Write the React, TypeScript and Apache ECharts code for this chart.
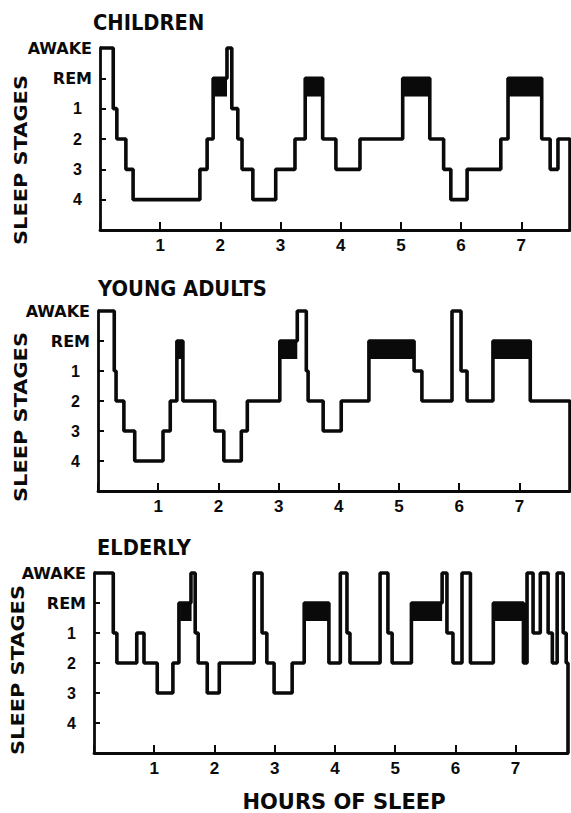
import React, { useEffect, useRef } from 'react';
import * as echarts from 'echarts';

// Stage categories, top to bottom; index 6 is the baseline the trace drops to at the end
const STAGES = ['AWAKE', 'REM', '1', '2', '3', '4'];
const HOUR_TICKS = [1, 2, 3, 4, 5, 6, 7];
const REM_DEPTH = 0.6;

// CHILDREN: hour at which each stage begins
const childrenTimes = [0, 0.22, 0.28, 0.43, 0.55, 1.66, 1.78, 1.88, 2.11, 2.19, 2.29, 2.36, 2.54, 2.92, 3.24, 3.41, 3.7, 3.92, 4.32, 5.03, 5.48, 5.71, 5.83, 6.1, 6.66, 6.78, 7.34, 7.48, 7.61];
const childrenStages = ['AWAKE', '1', '2', '3', '4', '3', '2', 'REM', 'AWAKE', '1', '2', '3', '4', '3', '2', 'REM', '2', '3', '2', 'REM', '2', '3', '4', '3', '2', 'REM', '2', '3', '2'];
const childrenRem = [[1.9, 2.11], [3.41, 3.72], [5.03, 5.5], [6.78, 7.36]];
const childrenEnd = 7.81;

// YOUNG ADULTS
const youngTimes = [0, 0.27, 0.3, 0.43, 0.61, 1.08, 1.2, 1.31, 1.41, 1.94, 2.09, 2.38, 2.48, 3.02, 3.31, 3.46, 3.49, 3.74, 4.04, 4.5, 5.25, 5.38, 5.88, 6.03, 6.13, 6.56, 7.18];
const youngStages = ['AWAKE', '1', '2', '3', '4', '3', '2', 'REM', '2', '3', '4', '3', '2', 'REM', 'AWAKE', '1', '2', '3', '2', 'REM', '1', '2', 'AWAKE', '1', '2', 'REM', '2'];
const youngRem = [[1.31, 1.43], [3.02, 3.31], [4.5, 5.25], [6.56, 7.18]];
const youngEnd = 7.84;

// ELDERLY
const elderlyTimes = [0, 0.32, 0.38, 0.71, 0.83, 1.05, 1.31, 1.41, 1.61, 1.68, 1.73, 1.88, 2.08, 2.66, 2.79, 2.87, 2.99, 3.29, 3.49, 3.9, 4.09, 4.2, 4.25, 4.75, 4.88, 4.95, 5.27, 5.78, 5.86, 5.96, 6.11, 6.25, 6.63, 7.13, 7.19, 7.29, 7.41, 7.54, 7.61, 7.69, 7.79, 7.84];
const elderlyStages = ['AWAKE', '1', '2', '1', '2', '3', '2', 'REM', 'AWAKE', '1', '2', '3', '2', 'AWAKE', '1', '2', '3', '2', 'REM', '2', 'AWAKE', '1', '2', 'AWAKE', '1', '2', 'REM', 'AWAKE', '1', '2', 'AWAKE', '2', 'REM', '2', 'AWAKE', '1', 'AWAKE', '1', '2', 'AWAKE', '1', '2'];
const elderlyRem = [[1.43, 1.62], [3.49, 3.9], [5.27, 5.78], [6.63, 7.13]];
const elderlyEnd = 7.87;

const INK = '#0a0a0a';
const WORD_FONT = '"DejaVu Sans", "Liberation Sans", sans-serif';
const DIGIT_FONT = '"Liberation Sans Narrow", "Liberation Sans", Arial, sans-serif';

const panels = [
  { title: 'CHILDREN', times: childrenTimes, stages: childrenStages, rem: childrenRem, end: childrenEnd,
    grid: { left: 100, top: 48, width: 470, height: 182 }, titlePos: [93, 23], ylabPos: [21, 160] },
  { title: 'YOUNG ADULTS', times: youngTimes, stages: youngStages, rem: youngRem, end: youngEnd,
    grid: { left: 98, top: 311, width: 472, height: 180 }, titlePos: [98, 289], ylabPos: [21, 417] },
  { title: 'ELDERLY', times: elderlyTimes, stages: elderlyStages, rem: elderlyRem, end: elderlyEnd,
    grid: { left: 94, top: 573, width: 474, height: 180 }, titlePos: [97, 548], ylabPos: [18, 670] },
];

export default function App() {
  const ref = useRef<HTMLDivElement>(null);

  useEffect(() => {
    if (!ref.current) return;
    const chart = echarts.init(ref.current, undefined, { renderer: 'svg' });

    const grids = panels.map((p) => p.grid);
    const xAxes = panels.map((p, i) => ({
      type: 'value',
      gridIndex: i,
      min: 0,
      max: p.end,
      interval: 1,
      axisLine: { show: true, onZero: false, lineStyle: { color: INK, width: 2.8 } },
      axisTick: { show: true, inside: true, length: 8, lineStyle: { color: INK, width: 2 } },
      splitLine: { show: false },
      axisLabel: {
        margin: 7,
        color: INK,
        fontFamily: DIGIT_FONT,
        fontWeight: 'bold',
        fontSize: 17,
        showMaxLabel: false,
        formatter: (v: number) => (HOUR_TICKS.includes(v) ? String(v) : ''),
      },
    }));
    const yAxes = panels.map((p, i) => ({
      type: 'value',
      gridIndex: i,
      inverse: true,
      min: 0,
      max: 6,
      interval: 1,
      axisLine: { show: true, lineStyle: { color: INK, width: 2.8 } },
      axisTick: { show: true, inside: true, length: 6, lineStyle: { color: INK, width: 2 } },
      splitLine: { show: false },
      axisLabel: {
        margin: 8,
        color: INK,
        formatter: (v: number) => {
          const s = STAGES[v];
          if (s === undefined) return '';
          return /^\d$/.test(s) ? `{n|${s}}` : `{w|${s}}`;
        },
        rich: {
          w: { fontFamily: WORD_FONT, fontWeight: 'bold', fontSize: 16, color: INK },
          n: { fontFamily: DIGIT_FONT, fontWeight: 'bold', fontSize: 16, color: INK, padding: [0, 10, 0, 0] },
        },
      },
    }));

    const series = panels.map((p, i) => ({
      type: 'line',
      xAxisIndex: i,
      yAxisIndex: i,
      step: 'end',
      symbol: 'none',
      clip: false,
      lineStyle: { color: INK, width: 3.6 },
      data: p.times.map((t, k) => [t, STAGES.indexOf(p.stages[k])]).concat([[p.end, 6]]),
      markArea: {
        silent: true,
        itemStyle: { color: INK, opacity: 1 },
        data: p.rem.map(([s, e]) => [
          { xAxis: s, yAxis: 1 },
          { xAxis: e, yAxis: 1 + REM_DEPTH },
        ]),
      },
    }));

    const graphic: any[] = [];
    panels.forEach((p) => {
      graphic.push({
        type: 'text',
        x: p.titlePos[0],
        y: p.titlePos[1],
        scaleX: 0.93,
        style: { text: p.title, font: `bold 21px ${WORD_FONT}`, fill: INK, align: 'left', verticalAlign: 'middle' },
      });
      graphic.push({
        type: 'text',
        x: p.ylabPos[0],
        y: p.ylabPos[1],
        rotation: Math.PI / 2,
        scaleX: 1.23,
        style: { text: 'SLEEP STAGES', font: `bold 17px ${WORD_FONT}`, fill: INK, align: 'center', verticalAlign: 'middle' },
      });
    });
    graphic.push({
      type: 'text',
      x: 344,
      y: 802,
      style: { text: 'HOURS OF SLEEP', font: `bold 21px ${WORD_FONT}`, fill: INK, align: 'center', verticalAlign: 'middle' },
    });

    chart.setOption({
      animation: false,
      backgroundColor: '#ffffff',
      grid: grids,
      xAxis: xAxes,
      yAxis: yAxes,
      series,
      graphic,
    } as any);

    return () => chart.dispose();
  }, []);

  return <div ref={ref} style={{ position: 'absolute', left: 0, top: 0, width: 571, height: 813 }} />;
}
